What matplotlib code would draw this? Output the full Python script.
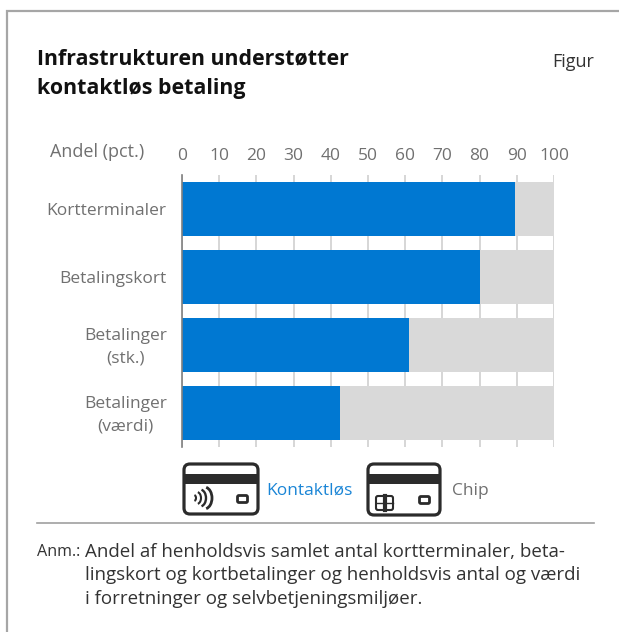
import matplotlib
matplotlib.use("Agg")
from matplotlib import pyplot as plt
from matplotlib.patches import FancyBboxPatch, Rectangle, Arc
from matplotlib.transforms import ScaledTranslation

plt.rcParams['font.family'] = ['Open Sans', 'DejaVu Sans']

W, H = 619, 632
categories = ['Kortterminaler', 'Betalingskort', 'Betalinger\n(stk.)', 'Betalinger\n(værdi)']
kontaktlos = [89.5, 80.0, 61.0, 42.5]
total = [100, 100, 100, 100]
xticks = list(range(0, 101, 10))

BLUE = '#0078d2'
GREY = '#d9d9d9'
TXT = '#707070'
DARK = '#2b2b2b'
FS = 12.5

fig = plt.figure(figsize=(W / 100, H / 100), dpi=100, facecolor='white')

# overlay in pixel coords for frame, text and icons
bg = fig.add_axes([0, 0, 1, 1])
bg.set_xlim(0, W)
bg.set_ylim(H, 0)
bg.axis('off')

bg.plot([7, 7, W], [H, 11, 11], color='#a6a6a6', lw=1.6, solid_joinstyle='miter')
bg.plot([37, 594], [523, 523], color='#a0a0a0', lw=1.2)

bg.text(37, 58.5, 'Infrastrukturen understøtter', fontsize=15.4, fontweight='bold',
        color='#111111', va='center')
bg.text(37, 88.5, 'kontaktløs betaling', fontsize=15.4, fontweight='bold',
        color='#111111', va='center')
bg.text(594, 62, 'Figur', fontsize=13, color='#333333', va='center', ha='right')
bg.text(50, 152, 'Andel (pct.)', fontsize=13, color=TXT, va='center')

bg.text(37, 552, 'Anm.:', fontsize=11.6, color='#333333', va='center')
note = ['Andel af henholdsvis samlet antal kortterminaler, beta-',
        'lingskort og kortbetalinger og henholdsvis antal og værdi',
        'i forretninger og selvbetjeningsmiljøer.']
for i, line in enumerate(note):
    bg.text(85, 552 + i * 23.5, line, fontsize=13.5, color='#333333', va='center')


def card(x0, x1, y0, y1):
    bg.add_patch(FancyBboxPatch((x0 + 6, y0 + 6), x1 - x0 - 12, y1 - y0 - 12,
                                boxstyle='round,pad=6,rounding_size=6',
                                fc='white', ec=DARK, lw=2.3))
    bg.add_patch(Rectangle((x0, y0 + 10), x1 - x0, 10, fc=DARK, ec='none'))
    bg.add_patch(FancyBboxPatch((x1 - 19, y1 - 17), 7, 4, boxstyle='round,pad=1.5,rounding_size=1.5',
                                fc='white', ec=DARK, lw=2))


card(184, 258, 464, 514)
for xr, hh, lw in zip((196, 201, 206, 212), (3, 6, 8.5, 11), (1.5, 1.5, 1.7, 2)):
    rx = hh * 0.7
    bg.add_patch(Arc((xr - rx, 498), rx * 2, hh * 2, theta1=-80, theta2=80, color=DARK, lw=lw))
bg.text(266, 491, 'Kontaktløs', fontsize=FS, color='#1a85d6', va='center')

card(368, 440, 464, 515)
bg.add_patch(FancyBboxPatch((377, 497), 15, 12, boxstyle='round,pad=1,rounding_size=2',
                            fc='white', ec=DARK, lw=1.5))
bg.plot([384.5, 384.5], [496, 510], color=DARK, lw=3)
bg.plot([376, 393], [503, 503], color=DARK, lw=1)
bg.text(452, 491, 'Chip', fontsize=FS, color=TXT, va='center')

# the bars
ax = fig.add_axes([182 / W, 1 - 447 / H, 372 / W, 272 / H])
ax.patch.set_alpha(0)
ax.barh(categories, total, height=0.8, color=GREY, zorder=2)
ax.barh(categories, kontaktlos, height=0.8, color=BLUE, zorder=3)
ax.set_xlim(0, 100)
ax.set_ylim(3.5, -0.5)
ax.set_xticks(xticks)
ax.xaxis.tick_top()
ax.tick_params(axis='x', length=0, pad=8, labelsize=FS, labelcolor=TXT)
ax.tick_params(axis='y', length=0, pad=11, labelsize=FS, labelcolor=TXT)
ax.grid(axis='x', color='#cfcfcf', lw=1.2)
ax.set_axisbelow(True)
for s in ('top', 'right', 'bottom'):
    ax.spines[s].set_visible(False)
ax.spines['left'].set_color('#808080')
ax.spines['left'].set_linewidth(1.2)
ax.spines['left'].set_zorder(5)
shift = ScaledTranslation(0, -2 / 100, fig.dpi_scale_trans)
for lab in ax.get_yticklabels():
    lab.set_multialignment('center')
    lab.set_linespacing(1.55)
    lab.set_verticalalignment('center')
    lab.set_transform(lab.get_transform() + shift)

fig.savefig('out.png', dpi=100)
